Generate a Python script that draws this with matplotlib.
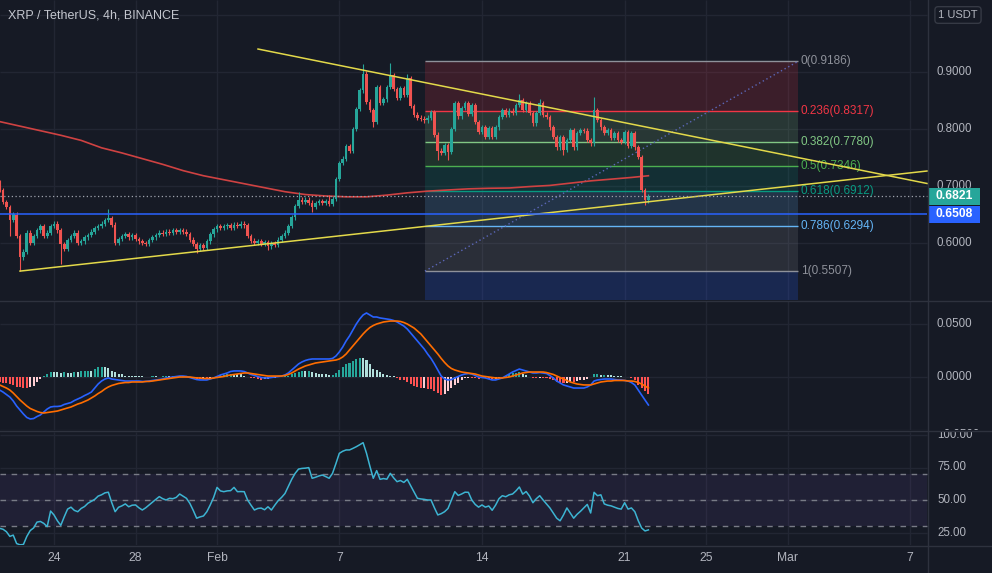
import numpy as np
import matplotlib
matplotlib.use("Agg")
import matplotlib.pyplot as plt
from matplotlib.patches import Rectangle
from matplotlib.lines import Line2D

# ---------------- data: XRP/USDT 4h candles ----------------
# time axis in days relative to Jan 24 00:00 (2022)
first_bar_day = -2.667          # Jan 21 08:00
bars_per_day = 6

open0 = 0.706
closes = [
    0.693, 0.672, 0.663, 0.640, 0.650, 0.612, 0.575, 0.585, 0.618, 0.600, 0.612, 0.622,
    0.630, 0.612, 0.618, 0.630, 0.634, 0.622, 0.598, 0.590, 0.605, 0.612, 0.618, 0.600,
    0.603, 0.610, 0.614, 0.620, 0.626, 0.630, 0.634, 0.640, 0.643, 0.632, 0.600, 0.607,
    0.612, 0.615, 0.610, 0.614, 0.607, 0.603, 0.600, 0.598, 0.605, 0.610, 0.614, 0.618,
    0.616, 0.620, 0.618, 0.622, 0.619, 0.623, 0.620, 0.616, 0.606, 0.598, 0.590, 0.596,
    0.592, 0.603, 0.615, 0.624, 0.630, 0.626, 0.629, 0.631, 0.627, 0.632, 0.630, 0.634,
    0.631, 0.612, 0.604, 0.600, 0.603, 0.598, 0.601, 0.594, 0.600, 0.597, 0.606, 0.612,
    0.618, 0.630, 0.645, 0.665, 0.676, 0.672, 0.676, 0.671, 0.664, 0.670, 0.673, 0.670,
    0.674, 0.669, 0.678, 0.712, 0.740, 0.748, 0.770, 0.762, 0.800, 0.835, 0.868, 0.897,
    0.848, 0.833, 0.812, 0.874, 0.846, 0.852, 0.874, 0.895, 0.870, 0.855, 0.872, 0.860,
    0.889, 0.840, 0.825, 0.820, 0.818, 0.815, 0.820, 0.830, 0.790, 0.762, 0.758, 0.772,
    0.760, 0.800, 0.846, 0.822, 0.837, 0.846, 0.826, 0.842, 0.812, 0.795, 0.803, 0.786,
    0.802, 0.786, 0.803, 0.821, 0.833, 0.825, 0.832, 0.828, 0.842, 0.851, 0.833, 0.846,
    0.828, 0.810, 0.828, 0.846, 0.825, 0.821, 0.803, 0.786, 0.768, 0.786, 0.763, 0.781,
    0.798, 0.768, 0.793, 0.798, 0.797, 0.781, 0.775, 0.833, 0.816, 0.803, 0.793, 0.798,
    0.784, 0.793, 0.781, 0.777, 0.795, 0.770, 0.793, 0.768, 0.751, 0.693, 0.675, 0.682,
]
# long wicks that stand out (bar index: price)
highs_marked = {32: 0.659, 88: 0.690, 97: 0.684, 107: 0.914, 115: 0.916, 120: 0.897,
                153: 0.861, 159: 0.853, 175: 0.856}
lows_marked = {3: 0.612, 6: 0.551, 18: 0.563, 58: 0.583, 79: 0.588, 92: 0.655,
               110: 0.803, 129: 0.746, 132: 0.745, 166: 0.754, 190: 0.667}
wick = 0.004

# red moving average, read once per day
ma_idx = [0, 6, 12, 18, 24, 30, 36, 42, 48, 54, 60, 66, 72, 78, 84, 90, 96, 102,
          108, 114, 120, 126, 132, 138, 144, 150, 156, 162, 168, 174, 180, 186, 191]
ma_vals = [0.813, 0.805, 0.797, 0.789, 0.780, 0.767, 0.758, 0.748, 0.738, 0.727, 0.718,
           0.711, 0.704, 0.697, 0.690, 0.685, 0.6825, 0.681, 0.681, 0.684, 0.688, 0.691,
           0.693, 0.695, 0.696, 0.6965, 0.699, 0.701, 0.705, 0.709, 0.712, 0.715, 0.718]

# MACD (values x 1e-3)
macd_line = [
    -12.3, -14.2, -16.5, -18.9, -22.6, -27.4, -31.1, -34.9, -38.2, -39.6, -39.2, -37.3,
    -35.8, -33.0, -30.2, -28.3, -27.8, -27.8, -27.4, -25.9, -25.0, -24.1, -22.2, -20.8,
    -19.3, -17.5, -16.0, -14.2, -10.4, -6.6, -3.8, -1.9, -0.9, -1.9, -2.4, -2.8,
    -3.3, -3.8, -3.8, -3.8, -3.8, -3.8, -4.2, -4.2, -3.8, -3.3, -2.8, -2.4,
    -1.9, -0.9, -0.5, 0.0, 0.5, 0.9, 0.9, 0.5, -0.5, -1.4, -2.4, -2.8,
    -2.8, -2.8, -1.9, -0.9, 0.5, 1.9, 2.8, 3.8, 5.2, 5.7, 5.7, 5.7,
    5.2, 3.8, 2.4, 1.4, 0.5, -0.5, -0.9, -0.9, -0.5, 0.0, 0.5, 0.9,
    1.9, 3.8, 6.6, 9.4, 12.3, 14.2, 15.6, 16.5, 17.0, 17.0, 17.0, 17.0,
    17.0, 17.0, 17.5, 19.8, 23.6, 28.3, 34.0, 38.7, 44.3, 50.0, 54.7, 58.5,
    60.4, 58.5, 56.6, 56.6, 55.7, 55.2, 54.7, 54.2, 53.3, 51.9, 50.0, 48.1,
    45.3, 41.5, 37.7, 34.0, 30.2, 26.4, 21.7, 17.5, 12.3, 6.6, 0.9, -1.9,
    -2.8, -2.4, -0.9, 0.5, 1.9, 2.8, 3.3, 2.8, 1.4, 0.0, -0.5, -0.9,
    -1.9, -2.8, -2.8, -1.9, -0.9, 0.9, 2.8, 4.7, 6.1, 7.5, 6.6, 5.7,
    4.7, 3.8, 3.8, 4.2, 3.8, 3.3, 1.4, -0.9, -3.8, -5.7, -7.5, -8.5,
    -9.4, -10.4, -10.4, -10.4, -10.4, -9.4, -7.5, -3.8, -2.8, -2.4, -1.9, -1.9,
    -1.9, -2.4, -2.8, -2.8, -3.3, -3.8, -5.2, -7.5, -12.3, -17.0, -21.7, -26.4,
]
signal_line = [
    -7.5, -9.0, -10.4, -12.3, -15.1, -18.4, -21.7, -24.5, -27.4, -29.7, -31.1, -32.5,
    -33.5, -34.0, -33.5, -33.0, -32.5, -32.1, -31.1, -30.2, -29.2, -28.3, -26.9, -25.5,
    -24.5, -23.1, -21.7, -19.8, -17.9, -15.6, -13.7, -11.3, -9.4, -8.0, -7.1, -6.1,
    -5.7, -5.2, -5.2, -4.7, -4.7, -4.7, -4.7, -4.2, -4.2, -3.8, -3.3, -2.8,
    -2.4, -1.9, -1.4, -0.9, -0.5, 0.0, 0.0, 0.0, 0.0, -0.5, -0.9, -0.9,
    -1.4, -1.4, -1.4, -0.9, -0.5, 0.0, 0.5, 1.4, 1.9, 2.4, 2.8, 3.3,
    3.8, 3.8, 3.3, 2.8, 2.4, 1.9, 1.4, 0.9, 0.9, 0.9, 0.9, 0.9,
    1.4, 2.4, 3.8, 5.7, 7.5, 9.0, 10.4, 11.3, 12.3, 13.2, 13.7, 14.2,
    14.6, 15.1, 15.6, 16.0, 17.0, 18.9, 21.7, 25.5, 29.2, 33.0, 36.8, 40.6,
    43.9, 46.7, 48.6, 50.0, 50.9, 51.9, 52.4, 52.8, 52.8, 52.8, 52.4, 51.4,
    50.0, 48.1, 46.2, 43.4, 40.6, 36.8, 33.0, 29.2, 25.5, 21.7, 17.5, 13.7,
    10.4, 8.0, 6.6, 5.7, 4.7, 4.2, 3.8, 3.3, 2.8, 1.9, 0.9, 0.5,
    0.0, -0.5, -0.9, -0.9, -0.9, -0.5, 0.0, 0.9, 1.9, 2.8, 3.8, 4.2,
    4.7, 4.7, 4.7, 4.7, 4.7, 4.2, 3.3, 2.4, 0.9, -0.5, -1.9, -3.3,
    -4.7, -5.7, -6.6, -7.1, -7.5, -7.5, -7.5, -6.6, -5.7, -4.7, -4.2, -3.8,
    -3.8, -3.3, -3.3, -3.3, -3.3, -3.8, -3.8, -4.2, -5.2, -6.6, -8.5, -10.4,
]

rsi = [
    28.2, 27.5, 25.6, 22.0, 23.0, 16.5, 15.5, 15.8, 22.0, 26.5, 28.5, 33.0,
    33.5, 32.0, 29.5, 41.5, 38.5, 34.0, 30.5, 37.0, 43.0, 44.5, 42.0, 41.0,
    43.5, 45.0, 47.5, 49.0, 50.5, 53.0, 54.0, 55.5, 56.0, 48.0, 41.0, 44.4,
    45.5, 47.0, 44.8, 46.0, 46.2, 44.0, 42.3, 44.0, 46.2, 48.5, 50.5, 52.6,
    51.0, 50.0, 51.3, 51.0, 52.0, 54.6, 53.0, 51.3, 47.4, 42.0, 36.0, 37.0,
    37.7, 41.0, 46.2, 52.0, 59.7, 57.0, 56.4, 57.0, 57.2, 59.7, 56.4, 56.5,
    56.4, 50.0, 46.0, 42.3, 43.5, 43.8, 42.5, 44.8, 42.3, 46.0, 49.5, 52.0,
    55.0, 60.5, 66.0, 70.5, 73.8, 74.3, 74.5, 74.9, 66.7, 67.5, 68.5, 69.2,
    68.0, 66.7, 70.5, 78.0, 85.9, 87.5, 88.5, 88.5, 89.7, 91.0, 92.5, 94.1,
    86.0, 76.0, 66.7, 72.6, 65.9, 66.5, 66.0, 70.5, 67.0, 64.1, 65.0, 63.5,
    65.9, 61.0, 56.0, 51.3, 50.8, 50.5, 50.0, 50.0, 44.0, 38.5, 39.5, 41.0,
    43.5, 50.0, 56.4, 53.5, 54.6, 56.0, 55.9, 50.0, 46.6, 44.5, 46.2, 44.5,
    45.4, 42.1, 46.0, 51.0, 53.3, 52.5, 54.0, 54.6, 57.0, 60.0, 54.5, 56.5,
    53.0, 47.9, 51.0, 53.3, 50.0, 47.0, 43.9, 40.0, 36.0, 34.0, 38.5, 43.9,
    40.0, 36.0, 39.0, 41.3, 44.0, 46.6, 40.0, 55.9, 53.3, 54.0, 47.0, 46.0,
    45.5, 44.5, 43.5, 43.0, 47.9, 43.0, 43.9, 41.0, 34.1, 28.5, 26.2, 27.0,
]

# Fibonacci retracement drawing
fib_levels = ["0", "0.236", "0.382", "0.5", "0.618", "0.786", "1"]
fib_prices = [0.9186, 0.8317, 0.7780, 0.7346, 0.6912, 0.6294, 0.5507]
fib_ext_price = 0.3231          # 1.618 level, below the pane
fib_colors = ["#8e919a", "#f23645", "#81c784", "#4caf50", "#089981", "#64b5f6", "#8e919a"]
fib_ext_color = "#2962ff"
fib_start, fib_end = 18.20, 36.51

# hand drawn trend lines (day, price)
upper_line = ([10.01, 42.84], [0.9403, 0.7044])
lower_line = ([-1.668, 42.84], [0.5507, 0.7263])
support_price = 0.6508
last_price = 0.6821

date_ticks = [0, 4, 8, 14, 21, 28, 32, 36, 42]
date_labels = ["24", "28", "Feb", "7", "14", "21", "25", "Mar", "7"]
price_ticks = [0.6, 0.7, 0.8, 0.9, 1.0]
macd_ticks = [0.05, 0.0, -0.05]
rsi_ticks = [100, 75, 50, 25]

# ---------------- style ----------------
W, H = 992, 573
PX_DAY = 20.38
X0 = 54                     # pixel of Jan 24
X_AXIS = 927.5              # price axis separator
BG = "#161a25"
GRID = "#222633"
SEP = "#2e323e"
TXT = "#b2b5be"
UP, DOWN = "#26a69a", "#ef5350"

plt.rcParams["font.family"] = ["Liberation Sans", "DejaVu Sans"]

def px2day(x):
    return (x - X0) / PX_DAY

xlim = (px2day(0), px2day(W))
t_edge = px2day(X_AXIS)
t_lab = px2day(937)

fig = plt.figure(figsize=(W / 100, H / 100), dpi=100, facecolor=BG)

def add_pane(y_top, y_bot):
    ax = fig.add_axes([0, 1 - y_bot / H, 1, (y_bot - y_top) / H])
    ax.set_facecolor(BG)
    ax.set_xlim(*xlim)
    ax.set_xticks([])
    ax.set_yticks([])
    for s in ax.spines.values():
        s.set_visible(False)
    return ax

ax1 = add_pane(0, 300)
ax2 = add_pane(301, 430)
ax3 = add_pane(432, 545)
ax1.set_ylim(0.5, 0.9 + 72 / 570)
ax2.set_ylim(-0.05, 76 / 1060)
ax3.set_ylim(50 - 45 / 1.3, 50 + 68 / 1.3)

for ax in (ax1, ax2, ax3):
    lo_, hi_ = ax.get_ylim()
    ax.vlines(date_ticks, lo_, hi_, color=GRID, lw=1, zorder=0)

ax1.hlines(price_ticks, xlim[0], t_edge, color=GRID, lw=1, zorder=0)
ax2.hlines(macd_ticks, xlim[0], t_edge, color=GRID, lw=1, zorder=0)
ax3.hlines(rsi_ticks, xlim[0], t_edge, color=GRID, lw=1, zorder=0)

# ---------------- main pane ----------------
n = len(closes)
t = first_bar_day + np.arange(n) / bars_per_day
c = np.array(closes)
o = np.r_[open0, c[:-1]]
hi = np.maximum(o, c) + wick
lo = np.minimum(o, c) - wick
for i, v in highs_marked.items():
    hi[i] = v
for i, v in lows_marked.items():
    lo[i] = v
col = np.where(c >= o, UP, DOWN)

# fib zones
for k in range(len(fib_prices) - 1):
    ax1.add_patch(Rectangle((fib_start, fib_prices[k + 1]), fib_end - fib_start,
                            fib_prices[k] - fib_prices[k + 1], fc=fib_colors[k + 1],
                            alpha=0.17, lw=0, zorder=1))
ax1.add_patch(Rectangle((fib_start, fib_ext_price), fib_end - fib_start,
                        fib_prices[-1] - fib_ext_price, fc=fib_ext_color, alpha=0.2, lw=0, zorder=1))
for lvl, p, cl in zip(fib_levels, fib_prices, fib_colors):
    ax1.hlines(p, fib_start, fib_end, color=cl, lw=1, zorder=2)
    ax1.text(px2day(801), p, "%s(%.4f)" % (lvl, p), color=cl, fontsize=8.5,
             va="center", ha="left", zorder=6)
ax1.plot([fib_start, fib_end], [fib_prices[-1], fib_prices[0]], color="#5b67b8",
         lw=1, ls=(0, (1, 2)), zorder=2)

ax1.plot(t[ma_idx], ma_vals, color="#cf4242", lw=1.2, zorder=3)

ax1.vlines(t, lo, hi, colors=col, lw=0.8, zorder=4)
ax1.bar(t, np.maximum(np.abs(c - o), 0.0015), bottom=np.minimum(o, c), width=0.13,
        color=col, lw=0, zorder=5)

ax1.plot(*upper_line, color="#e3d94a", lw=1.1, zorder=6)
ax1.plot(*lower_line, color="#e3d94a", lw=1.1, zorder=6)
ax1.hlines(support_price, xlim[0], t_edge, color="#2962ff", lw=1.1, zorder=6)
ax1.hlines(last_price, xlim[0], t_edge, color="#9ea3ad", lw=0.9, ls=(0, (1, 2)), zorder=6)

for p in price_ticks[:-1]:
    ax1.text(t_lab, p, "%.4f" % p, color=TXT, fontsize=8.3, va="center", ha="left")

# ---------------- MACD pane ----------------
m = np.array(macd_line) * 1e-3
s = np.array(signal_line) * 1e-3
h = m - s
prev = np.r_[h[0], h[:-1]]
hcol = np.where(h >= 0, np.where(h > prev, "#26a69a", "#b2dfdb"),
                np.where(h > prev, "#ffcdd2", "#ff5252"))
ax2.bar(t, h, width=0.1, color=hcol, lw=0, zorder=2)
ax2.plot(t, m, color="#2962ff", lw=1.2, zorder=3)
ax2.plot(t, s, color="#ff6d00", lw=1.2, zorder=3)
ax2.text(t_lab, 0.05, "0.0500", color=TXT, fontsize=8.3, va="center", ha="left")
ax2.text(t_lab, 0.0, "0.0000", color=TXT, fontsize=8.3, va="center", ha="left")
# bottom label sits half under the pane edge, as on the screen
ax2.text(t_lab, -0.0545, "\u22120.0500", color=TXT, fontsize=8.3, va="center",
         ha="left", clip_on=True)

# ---------------- RSI pane ----------------
ax3.fill_between([xlim[0], t_edge], 30, 70, color="#7e57c2", alpha=0.1, lw=0, zorder=1)
ax3.hlines([70, 50, 30], xlim[0], t_edge, color="#787b86", lw=1, ls=(0, (4, 4)), zorder=2)
ax3.plot(t, rsi, color="#3db4d2", lw=1.1, zorder=3)
for v in rsi_ticks:
    ax3.text(t_lab, v, "%.2f" % v, color=TXT, fontsize=8.3, va="center", ha="left",
             clip_on=True)

# ---------------- frame, axes, labels ----------------
def fx(x):
    return x / W

def fy(y):
    return 1 - y / H

for y in (300.5, 431, 545.5):
    fig.add_artist(Line2D([0, 1], [fy(y), fy(y)], color=SEP, lw=1))
fig.add_artist(Line2D([fx(X_AXIS), fx(X_AXIS)], [0, 1], color=SEP, lw=1))

for d, lab in zip(date_ticks, date_labels):
    fig.text(fx(X0 + d * PX_DAY), fy(558), lab, color=TXT, fontsize=8.7,
             ha="center", va="center")

fig.text(fx(8), fy(15), "XRP / TetherUS, 4h, BINANCE", color="#c3c6ce",
         fontsize=9, ha="left", va="center")
fig.text(fx(958), fy(15), "1 USDT", color=TXT, fontsize=8, ha="center", va="center",
         bbox=dict(boxstyle="round,pad=0.3", fc=BG, ec="#363a45", lw=1))

for price, fc in ((last_price, UP), (support_price, "#2962ff")):
    yc = 72 + (0.9 - price) * 570
    fig.add_artist(Rectangle((fx(928), fy(yc + 8.5)), 52 / W, 17 / H, fc=fc, lw=0,
                             transform=fig.transFigure))
    fig.text(fx(954), fy(yc), "%.4f" % price, color="white", fontsize=8.7,
             fontweight="bold", ha="center", va="center")

fig.savefig("out.png", dpi=100, facecolor=BG)
